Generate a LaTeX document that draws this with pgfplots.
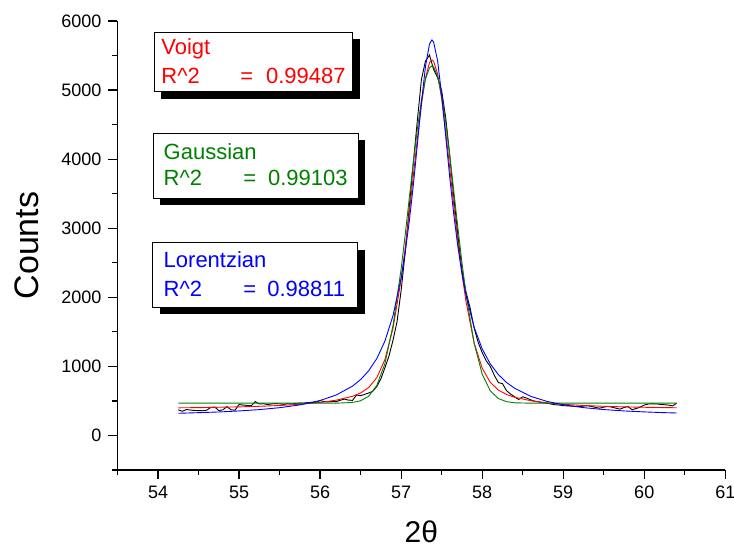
\documentclass[border=0pt]{standalone}
\usepackage{fontspec}
\setmainfont{Liberation Sans}
\usepackage{pgfplots}
\usepackage{pgfplotstable}
\pgfplotsset{compat=1.18}

\definecolor{vred}{RGB}{255,0,0}
\definecolor{ggreen}{RGB}{0,128,0}
\definecolor{lblue}{RGB}{0,0,255}

% measured counts
\pgfplotstableread{
x y
54.25 371
54.30 350
54.35 375
54.40 368
54.45 362
54.50 360
54.55 358
54.60 365
54.65 405
54.70 412
54.75 360
54.80 370
54.85 418
54.90 372
54.95 365
55.00 448
55.05 440
55.10 435
55.15 430
55.20 490
55.25 455
55.30 460
55.35 448
55.40 455
55.45 462
55.50 458
55.55 450
55.60 460
55.65 455
55.70 465
55.75 468
55.80 470
55.85 476
55.90 480
55.95 478
56.00 505
56.05 490
56.10 486
56.15 492
56.20 490
56.25 510
56.30 526
56.35 512
56.40 508
56.45 585
56.50 575
56.55 595
56.60 615
56.65 640
56.70 708
56.75 820
56.80 980
56.85 1150
56.90 1380
56.95 1650
57.00 2100
57.05 2650
57.10 3300
57.15 3940
57.20 4560
57.25 5150
57.30 5420
57.35 5508
57.40 5300
57.45 5180
57.50 4990
57.55 4600
57.60 4050
57.65 3450
57.70 2900
57.75 2400
57.80 2080
57.85 1850
57.90 1560
57.95 1350
58.00 1200
58.05 1080
58.10 1000
58.15 870
58.20 765
58.25 750
58.30 650
58.35 600
58.40 560
58.45 520
58.50 560
58.55 540
58.60 515
58.65 495
58.70 485
58.75 472
58.80 467
58.85 455
58.90 445
58.95 440
59.00 432
59.05 428
59.10 425
59.15 420
59.20 418
59.25 425
59.30 430
59.35 420
59.40 405
59.45 395
59.50 410
59.55 420
59.60 410
59.65 395
59.70 380
59.75 405
59.80 418
59.85 372
59.90 390
59.95 410
60.00 440
60.05 455
60.10 458
60.15 457
60.20 450
60.25 445
60.30 440
60.35 428
60.40 467
}\counts

% fitted curves
\pgfplotstableread{
x voigt gauss lorentz
54.25 400 467 321
54.50 403 467 330
54.75 408 467 340
55.00 414 467 355
55.25 422 467 374
55.50 434 467 402
55.75 451 467 442
56.00 477 467 506
56.20 511 467 586
56.40 567 478 714
56.50 615 502 809
56.60 694 568 937
56.70 837 724 1114
56.80 1099 1040 1366
56.90 1554 1593 1735
57.00 2259 2411 2281
57.05 2711 2905 2650
57.10 3217 3429 3095
57.15 3756 3952 3620
57.20 4294 4438 4209
57.25 4786 4851 4813
57.30 5173 5155 5339
57.35 5398 5322 5667
57.38 5436 5350 5725
57.40 5419 5338 5699
57.45 5233 5200 5424
57.50 4873 4922 4928
57.55 4398 4528 4331
57.60 3865 4053 3734
57.65 3323 3534 3194
57.70 2809 3009 2732
57.75 2345 2507 2349
57.80 1944 2053 2034
57.90 1342 1338 1568
58.00 974 888 1253
58.10 769 646 1036
58.20 657 534 881
58.30 593 489 768
58.40 553 473 683
58.60 503 467 566
58.80 472 467 493
59.00 451 467 444
59.25 434 467 403
59.50 422 467 375
59.75 414 467 355
60.00 408 467 341
60.20 404 467 332
60.40 401 467 325
}\fits

\begin{document}
\begin{tikzpicture}
\path[use as bounding box] (-58.75pt,-40pt) rectangle (308.25pt,235pt);
\begin{axis}[
  scale only axis, width=303.9pt, height=224.5pt,
  xmin=53.5, xmax=61, ymin=-500, ymax=6000,
  axis x line*=bottom, axis y line*=left,
  axis line style={-, line width=0.6pt},
  xtick={54,...,61}, minor xtick={53.5,54.5,...,60.5},
  ytick={0,1000,...,6000}, minor ytick={-500,500,...,5500},
  tick align=outside, major tick length=4.5pt, minor tick length=2.5pt,
  tick style={black, line width=0.6pt},
  /pgf/number format/assume math mode=true,
  /pgf/number format/1000 sep={},
  tick label style={font=\fontsize{9}{10}\selectfont},
  xlabel={2θ}, ylabel={Counts},
  xlabel style={font=\fontsize{15}{18}\selectfont, at={(axis description cs:0.5,-0.138)}, anchor=center},
  ylabel style={font=\fontsize{17}{20}\selectfont, at={(axis description cs:-0.150,0.5)}, anchor=center},
  every axis plot/.append style={line width=0.45pt},
]
\addplot[black] table[x=x, y=y] {\counts};
\addplot[vred] table[x=x, y=voigt] {\fits};
\addplot[ggreen] table[x=x, y=gauss] {\fits};
\addplot[lblue] table[x=x, y=lorentz] {\fits};

% result boxes
\fill[black, shift={(3.5pt,-3.5pt)}] (axis description cs:0.0601,0.9748) rectangle (axis description cs:0.387,0.8425);
\draw[fill=white, line width=0.5pt] (axis description cs:0.0601,0.9748) rectangle (axis description cs:0.387,0.8425);
\fill[black, shift={(3.5pt,-3.5pt)}] (axis description cs:0.0589,0.7499) rectangle (axis description cs:0.3962,0.6051);
\draw[fill=white, line width=0.5pt] (axis description cs:0.0589,0.7499) rectangle (axis description cs:0.3962,0.6051);
\fill[black, shift={(3.5pt,-3.5pt)}] (axis description cs:0.0579,0.5062) rectangle (axis description cs:0.3952,0.3623);
\draw[fill=white, line width=0.5pt] (axis description cs:0.0579,0.5062) rectangle (axis description cs:0.3952,0.3623);

\begin{scope}[every node/.style={anchor=base west, inner sep=0pt, font=\fontsize{11}{13}\selectfont}]
\node[text=vred] at (axis description cs:0.0716,0.9243) {Voigt};
\node[text=vred] at (axis description cs:0.0716,0.8612) {R\textasciicircum 2};
\node[text=vred] at (axis description cs:0.2015,0.8612) {=};
\node[text=vred] at (axis description cs:0.2438,0.8612) {0.99487};
\node[text=ggreen] at (axis description cs:0.0754,0.6920) {Gaussian};
\node[text=ggreen] at (axis description cs:0.0754,0.6347) {R\textasciicircum 2};
\node[text=ggreen] at (axis description cs:0.2065,0.6347) {=};
\node[text=ggreen] at (axis description cs:0.2471,0.6347) {0.99103};
\node[text=lblue] at (axis description cs:0.0754,0.4499) {Lorentzian};
\node[text=lblue] at (axis description cs:0.0754,0.3875) {R\textasciicircum 2};
\node[text=lblue] at (axis description cs:0.2065,0.3875) {=};
\node[text=lblue] at (axis description cs:0.2458,0.3875) {0.98811};
\end{scope}
\end{axis}
\end{tikzpicture}
\end{document}
